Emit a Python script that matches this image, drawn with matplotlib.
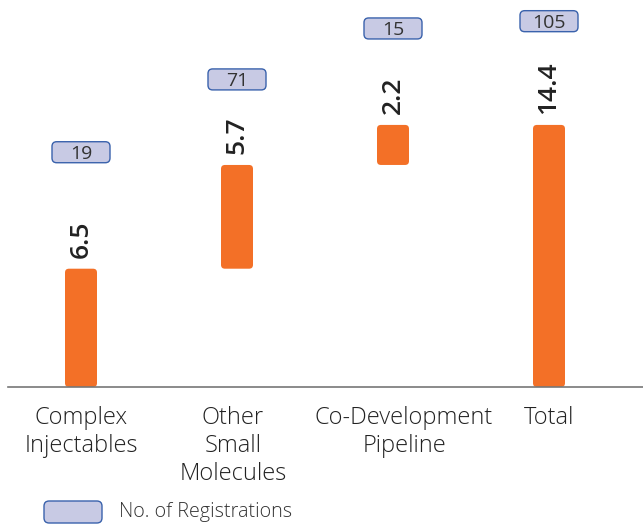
import matplotlib.pyplot as plt
from matplotlib.patches import FancyBboxPatch
from matplotlib.transforms import ScaledTranslation

# waterfall data
categories = ["Complex\nInjectables", "Other\nSmall\nMolecules", "Co-Development\nPipeline", "Total"]
values = [6.5, 5.7, 2.2, 14.4]
registrations = ["19", "71", "15", "105"]

orange = "#F37027"
box_face = "#C8CAE4"
box_edge = "#3A62AC"

plt.rcParams['font.family'] = ['Open Sans', 'DejaVu Sans']

fig = plt.figure(figsize=(6.43, 5.24), dpi=100)
ax = fig.add_axes([8 / 643, 137 / 524, 635 / 643, 387 / 524])

px_y = 18.2          # pixels per unit on y
px_x = 156.0         # pixels per category on x
ax.set_xlim(-73 / px_x, 3 + 94 / px_x)
ax.set_ylim(0, 387 / px_y)

bar_w = 32 / px_x
aspect = px_x / px_y

# bottoms for the floating bars, total starts at zero
bottoms = []
running = 0
for i, v in enumerate(values):
    if i == len(values) - 1:
        bottoms.append(0)
    else:
        bottoms.append(running)
        running += v

box_offsets = [6.4, 4.7, 5.3, 5.7]   # registration box height above bar top
for i, (v, b) in enumerate(zip(values, bottoms)):
    bar = FancyBboxPatch((i - bar_w / 2, b), bar_w, v,
                         boxstyle="round,pad=0,rounding_size=0.025",
                         mutation_aspect=aspect, fc=orange, ec="none")
    ax.add_patch(bar)
    top = b + v
    ax.annotate(f"{v}", (i, top), xytext=(0, 8), textcoords="offset points",
                rotation=90, ha="center", va="bottom", fontsize=19,
                fontweight="semibold", color="#222222")
    # registration count box
    bw, bh = 58 / px_x, 21 / px_y
    cy = top + box_offsets[i]
    box = FancyBboxPatch((i - bw / 2, cy - bh / 2), bw, bh,
                         boxstyle="round,pad=0,rounding_size=0.03",
                         mutation_aspect=aspect,
                         fc=box_face, ec=box_edge, lw=1.0, clip_on=False)
    ax.add_patch(box)
    ax.text(i, cy, registrations[i], ha="center", va="center_baseline",
            fontsize=14, color="#333333")

for s in ["top", "right", "left"]:
    ax.spines[s].set_visible(False)
ax.spines["bottom"].set_color("#777777")
ax.spines["bottom"].set_linewidth(1.2)
ax.set_yticks([])
ax.set_xticks(range(len(categories)))
ax.set_xticklabels(categories, fontsize=17, fontweight="light",
                   color="#222222", linespacing=1.2)
ax.tick_params(axis="x", length=0, pad=14)

# nudge a couple of the category labels sideways (pixels)
label_dx = [0, -4, 11, 0]
for lab, dx in zip(ax.get_xticklabels(), label_dx):
    lab.set_transform(lab.get_transform() + ScaledTranslation(dx / 100, 0, fig.dpi_scale_trans))

# legend entry
leg = FancyBboxPatch((44 / 643, 1 / 524), 58 / 643, 22 / 524,
                     boxstyle="round,pad=0,rounding_size=0.008",
                     mutation_aspect=643 / 524,
                     transform=fig.transFigure, fc=box_face, ec=box_edge, lw=1.0)
fig.patches.append(leg)
fig.text(119 / 643, 12 / 524, "No. of Registrations", fontsize=14.2,
         fontweight="light", color="#333333", va="center", ha="left")

fig.savefig("out.png", dpi=100)
